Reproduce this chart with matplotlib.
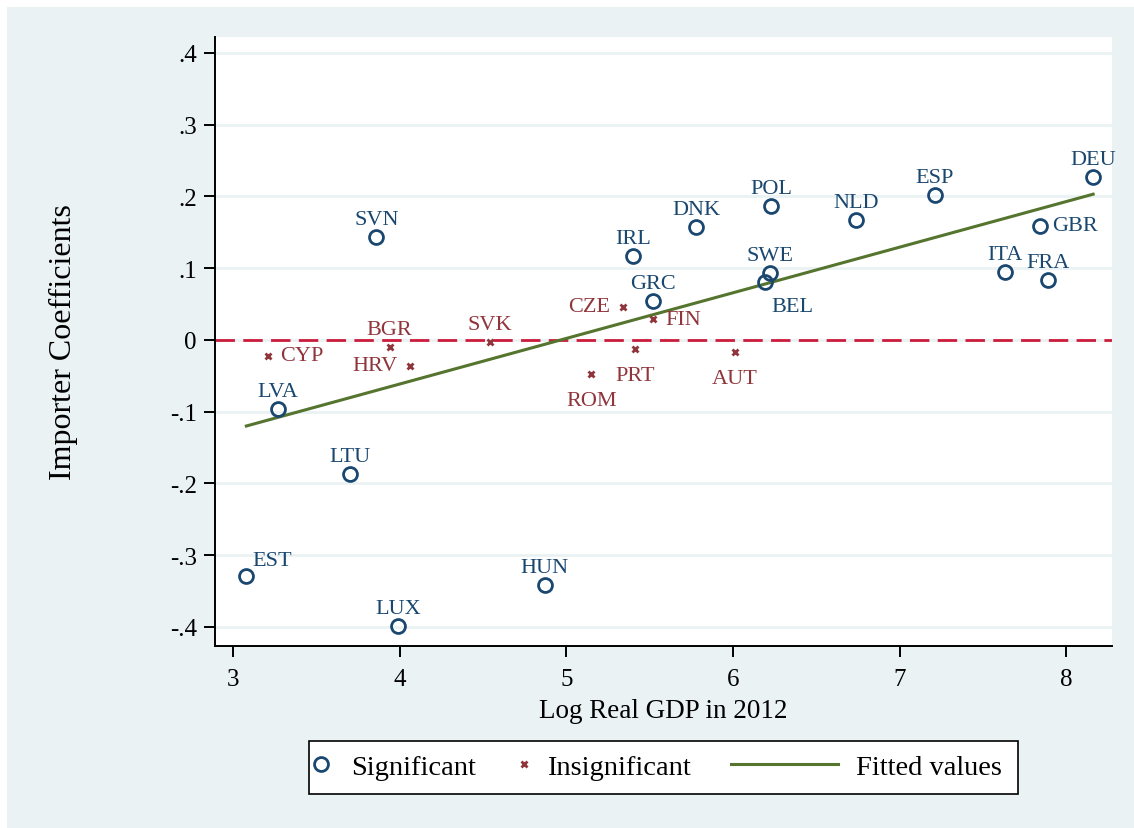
import numpy as np
import matplotlib
matplotlib.use("Agg")
import matplotlib.pyplot as plt
from matplotlib.patches import Rectangle

plt.rcParams['font.family'] = ['Liberation Serif', 'DejaVu Serif']

# significant importers
sig_names = ['EST', 'LVA', 'LTU', 'SVN', 'LUX', 'HUN', 'IRL', 'GRC', 'DNK',
             'POL', 'SWE', 'BEL', 'NLD', 'ESP', 'ITA', 'GBR', 'FRA', 'DEU']
sig_gdp = [3.08, 3.27, 3.70, 3.86, 3.99, 4.87, 5.40, 5.52, 5.78,
           6.23, 6.22, 6.19, 6.74, 7.21, 7.63, 7.84, 7.89, 8.16]
sig_coef = [-0.329, -0.096, -0.187, 0.144, -0.399, -0.341, 0.117, 0.054, 0.157,
            0.187, 0.093, 0.081, 0.167, 0.202, 0.095, 0.159, 0.084, 0.227]

# insignificant importers
ins_names = ['CYP', 'BGR', 'HRV', 'SVK', 'ROM', 'CZE', 'FIN', 'PRT', 'AUT']
ins_gdp = [3.21, 3.94, 4.06, 4.54, 5.15, 5.34, 5.52, 5.41, 6.01]
ins_coef = [-0.022, -0.010, -0.036, -0.003, -0.047, 0.046, 0.029, -0.013, -0.017]

# fitted values line (end points)
fit_gdp = [3.08, 8.16]
fit_coef = [-0.120, 0.203]

yticks = [0.4, 0.3, 0.2, 0.1, 0.0, -0.1, -0.2, -0.3, -0.4]
ytick_labels = ['.4', '.3', '.2', '.1', '0', '-.1', '-.2', '-.3', '-.4']
xticks = [3, 4, 5, 6, 7, 8]

navy = '#1A476F'
maroon = '#90353B'
green = '#55752F'
bg = '#EAF2F3'

# label placement (offset in points, ha)
place = {'n': ((0, 12.5), 'center'), 'e': ((9, 0), 'left'), 'w': ((-9, 0), 'right'),
         's': ((0, -19), 'center'), 'ne': ((4, 11.5), 'left'), 'se': ((20, -18), 'center')}
label_pos = {'EST': 'ne', 'CYP': 'e', 'GBR': 'e', 'FIN': 'e', 'HRV': 'w', 'CZE': 'w',
             'BEL': 'se', 'PRT': 's', 'ROM': 's', 'AUT': 's'}

W, H = 1134, 829
fig = plt.figure(figsize=(W / 100, H / 100), dpi=100, facecolor='white')
fig.patches.append(Rectangle((7 / W, 0), 1, 1 - 8 / H, transform=fig.transFigure,
                             facecolor=bg, edgecolor='none', zorder=-10))
ax = fig.add_axes([215 / W, 1 - 647 / H, (1112 - 215) / W, (647 - 38) / H])
ax.set_facecolor('white')

for y in yticks:
    ax.axhline(y, color=bg, lw=2, zorder=0)

ax.axhline(0, color='#CC1C3C', lw=2, dashes=(7, 3), zorder=1)
fit_line, = ax.plot(fit_gdp, fit_coef, color=green, lw=2.2, zorder=2)
sig_pts, = ax.plot(sig_gdp, sig_coef, 'o', ms=10, mfc='none', mec=navy, mew=2, zorder=3)
ins_pts, = ax.plot(ins_gdp, ins_coef, 'x', ms=5, mec=maroon, mew=2, zorder=3)

for names, xs, ys, col in [(sig_names, sig_gdp, sig_coef, navy),
                           (ins_names, ins_gdp, ins_coef, maroon)]:
    for n, x, y in zip(names, xs, ys):
        off, ha = place[label_pos.get(n, 'n')]
        ax.annotate(n, (x, y), xytext=off, textcoords='offset points', ha=ha,
                    va='center', color=col, fontsize=16, zorder=4)

ax.set_xlim(2.892, 8.273)
ax.set_ylim(-0.4265, 0.422)
ax.set_xticks(xticks)
ax.set_yticks(yticks)
ax.set_yticklabels(ytick_labels)
ax.tick_params(direction='out', length=8, width=1.4, labelsize=18)
ax.tick_params(axis='x', pad=8)
ax.tick_params(axis='y', pad=5)
for s in ['top', 'right']:
    ax.spines[s].set_visible(False)
for s in ['left', 'bottom']:
    ax.spines[s].set_linewidth(1.4)

ax.set_xlabel('Log Real GDP in 2012', fontsize=19.5)
ax.set_ylabel('Importer Coefficients', fontsize=23)
ax.xaxis.set_label_coords(0.5, -0.0854)
ax.yaxis.set_label_coords(-0.153, 0.5)

# legend: framed box with three entries (Stata style)
fig.patches.append(Rectangle((309 / W, 1 - 795 / H), (1018 - 309) / W, 53 / H,
                             transform=fig.transFigure, facecolor='white',
                             edgecolor='black', lw=1.2, zorder=1))
ly = 1 - 768 / H
for handle, text, x0, hl, hp in [(sig_pts, 'Significant', 307, 1.0, 0.56),
                                 (ins_pts, 'Insignificant', 510, 1.0, 0.3),
                                 (fit_line, 'Fitted values', 731, 3.76, 0.63)]:
    lg = fig.legend([handle], [text], loc='center left', bbox_to_anchor=(x0 / W, ly),
                    frameon=False, fontsize=20.5, handlelength=hl, handletextpad=hp,
                    borderpad=0, borderaxespad=0, numpoints=1)
    lg.set_zorder(5)

fig.savefig('out.png', dpi=100, facecolor=fig.get_facecolor())
